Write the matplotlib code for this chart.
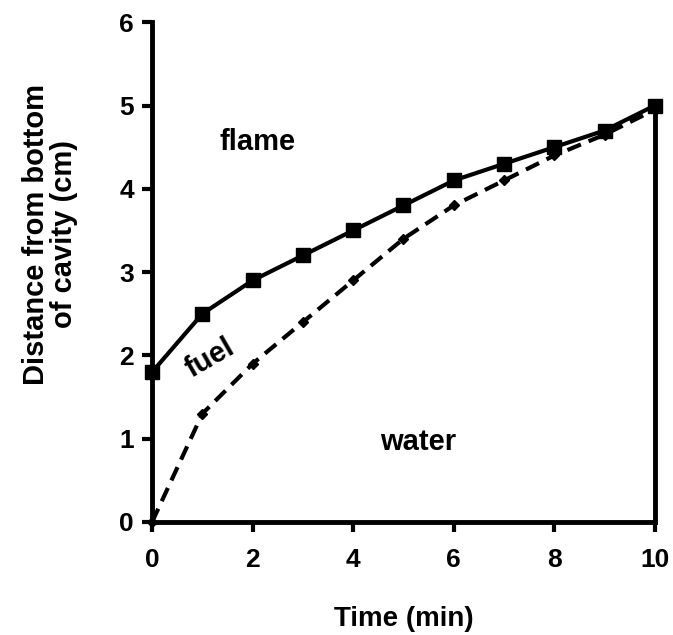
import matplotlib.pyplot as plt

plt.rcParams['font.family'] = ['Liberation Sans', 'DejaVu Sans']
plt.rcParams['font.weight'] = 'bold'

time_min = [0, 1, 2, 3, 4, 5, 6, 7, 8, 9, 10]
flame_front = [1.8, 2.5, 2.9, 3.2, 3.5, 3.8, 4.1, 4.3, 4.5, 4.7, 5.0]
water_front = [0.0, 1.3, 1.9, 2.4, 2.9, 3.4, 3.8, 4.1, 4.4, 4.65, 4.95]

fig = plt.figure(figsize=(6.73, 6.35), dpi=100)
ax = fig.add_axes([0.226, 0.178, 0.747, 0.787])

ax.plot(time_min, flame_front, color='black', lw=3, marker='s', ms=10, clip_on=False, zorder=3)
ax.plot(time_min, water_front, color='black', lw=3, ls=(0, (3.5, 2)), marker='D', ms=5, clip_on=False, zorder=3)
# right boundary line
ax.plot([time_min[-1], time_min[-1]], [0, flame_front[-1]], color='black', lw=3.5, clip_on=False)

ax.set_xlim(0, 10)
ax.set_ylim(0, 6)
ax.set_xticks([0, 2, 4, 6, 8, 10])
ax.set_yticks([0, 1, 2, 3, 4, 5, 6])
ax.spines['top'].set_visible(False)
ax.spines['right'].set_visible(False)
for s in ['left', 'bottom']:
    ax.spines[s].set_linewidth(3.5)
ax.tick_params(width=3, length=7, labelsize=19)
ax.tick_params(axis='x', pad=12)
ax.tick_params(axis='y', pad=6)

ax.set_xlabel('Time (min)', fontsize=20, fontweight='bold', labelpad=24)
ax.set_ylabel('Distance from bottom\nof cavity (cm)', fontsize=21, fontweight='bold',
              linespacing=1.0)
ax.yaxis.set_label_coords(-0.147, 0.576)

ax.text(2.1, 4.56, 'flame', fontsize=21, fontweight='bold', ha='center', va='center')
ax.text(1.15, 1.97, 'fuel', fontsize=21, fontweight='bold', ha='center', va='center', rotation=30)
ax.text(5.3, 0.96, 'water', fontsize=21, fontweight='bold', ha='center', va='center')

fig.savefig('out.png', dpi=100)
